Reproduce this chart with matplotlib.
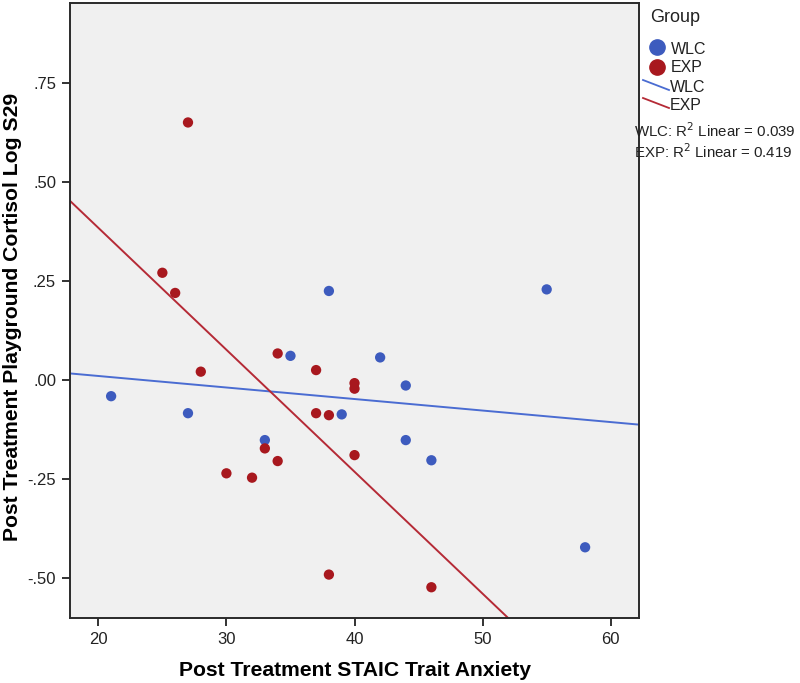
import numpy as np
import matplotlib
matplotlib.use("Agg")
import matplotlib.pyplot as plt
from matplotlib.lines import Line2D
from matplotlib.ticker import FuncFormatter

plt.rcParams['font.family'] = ['Liberation Sans', 'DejaVu Sans']

# Data
wlc_x = [21, 27, 33, 35, 38, 39, 42, 44, 44, 46, 55, 58]
wlc_y = [-0.041, -0.084, -0.152, 0.061, 0.225, -0.087, 0.057, -0.014, -0.152, -0.203, 0.229, -0.423]
exp_x = [25, 26, 27, 28, 30, 32, 33, 34, 34, 37, 37, 38, 38, 40, 40, 40, 46]
exp_y = [0.271, 0.220, 0.651, 0.021, -0.236, -0.247, -0.173, 0.067, -0.205, 0.025, -0.084, -0.089, -0.492,
         -0.008, -0.022, -0.190, -0.524]
group_labels = ["WLC", "EXP"]
r2_texts = ["WLC: R$^2$ Linear = 0.039", "EXP: R$^2$ Linear = 0.419"]
x_ticks = [20, 30, 40, 50, 60]
y_ticks = [-0.5, -0.25, 0.0, 0.25, 0.5, 0.75]
x_label = "Post Treatment STAIC Trait Anxiety"
y_label = "Post Treatment Playground Cortisol Log S29"

blue_pt = "#3D5BBE"
red_pt = "#A8181E"
blue_ln = "#4A6CD2"
red_ln = "#B52A36"

fig = plt.figure(figsize=(8.0, 6.83), dpi=100)
ax = fig.add_axes([70/800, 1-617.7/683, (639.3-70)/800, (617.7-3)/683])
ax.set_facecolor("#F0F0F0")
ax.set_xlim(17.79, 62.23)
ax.set_ylim(-0.601, 0.953)

# Fit lines across the full x range
xl = np.array(ax.get_xlim())
for xs, ys, c in [(wlc_x, wlc_y, blue_ln), (exp_x, exp_y, red_ln)]:
    b, a = np.polyfit(xs, ys, 1)
    ax.plot(xl, a + b*xl, color=c, lw=1.4, zorder=2, clip_on=True)

ax.scatter(wlc_x, wlc_y, s=55, color=blue_pt, edgecolors='none', zorder=3)
ax.scatter(exp_x, exp_y, s=55, color=red_pt, edgecolors='none', zorder=3)

ax.set_xticks(x_ticks)
ax.set_yticks(y_ticks)
ax.yaxis.set_major_formatter(FuncFormatter(lambda v, p: f"{v:.2f}".replace("0.", ".", 1)))
ax.tick_params(direction='out', length=6, width=1.3, color="#222222", labelsize=12,
               labelcolor="#222222", pad=4)
for s in ax.spines.values():
    s.set_linewidth(1.4)
    s.set_color("#2a2a2a")

ax.set_xlabel(x_label, fontsize=15.2, fontweight='bold', va='center')
ax.set_ylabel(y_label, fontsize=15.2, fontweight='bold', va='center')
ax.xaxis.set_label_coords(0.5, -(671-617.7)/614.7)
ax.yaxis.set_label_coords(-(70-13)/569.3, 0.49)

# Legend drawn manually to match SPSS style
def fx(px):
    return px/800
def fy(py):
    return 1 - py/683

fig.text(fx(650), fy(18), "Group", fontsize=13, va='center', ha='left', color="#222222")
fig.add_artist(Line2D([fx(657)], [fy(47)], marker='o', markersize=11, color=blue_pt, ls='none'))
fig.text(fx(671), fy(49), group_labels[0], fontsize=11.5, va='center', ha='left', color="#222222")
fig.add_artist(Line2D([fx(657)], [fy(67)], marker='o', markersize=11, color=red_pt, ls='none'))
fig.text(fx(671), fy(68), group_labels[1], fontsize=11.5, va='center', ha='left', color="#222222")
fig.add_artist(Line2D([fx(643), fx(669)], [fy(80), fy(90)], color=blue_ln, lw=1.3))
fig.text(fx(670), fy(87), group_labels[0], fontsize=11.5, va='center', ha='left', color="#222222")
fig.add_artist(Line2D([fx(643), fx(669)], [fy(98), fy(108)], color=red_ln, lw=1.3))
fig.text(fx(670), fy(106), group_labels[1], fontsize=11.5, va='center', ha='left', color="#222222")
fig.text(fx(634), fy(131), r2_texts[0], fontsize=10.8, va='center', ha='left', color="#222222")
fig.text(fx(634), fy(152), r2_texts[1], fontsize=10.8, va='center', ha='left', color="#222222")

fig.savefig("out.png", dpi=100, facecolor="white")
